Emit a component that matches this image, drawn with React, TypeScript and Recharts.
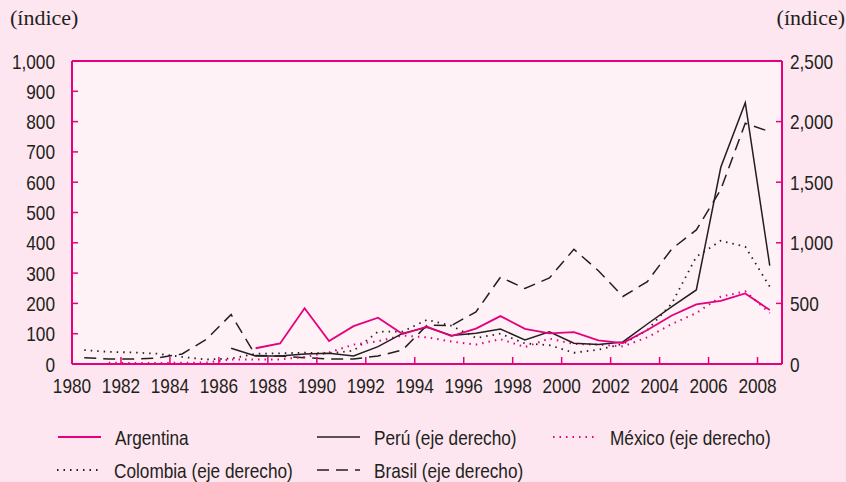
import { LineChart, Line, XAxis, YAxis, CartesianGrid, ReferenceLine } from 'recharts'

const years = [
  1980, 1981, 1982, 1983, 1984, 1985, 1986, 1987, 1988, 1989, 1990, 1991, 1992, 1993, 1994,
  1995, 1996, 1997, 1998, 1999, 2000, 2001, 2002, 2003, 2004, 2005, 2006, 2007, 2008,
]

// eje izquierdo
const argentina = [
  null, null, null, null, null, null, null, 52, 68, 184, 76, 125, 153, 99, 123,
  92, 117, 158, 116, 101, 105, 78, 69, 112, 160, 197, 208, 233, 178,
]

// eje derecho
const peru = [
  null, null, null, null, null, null, 130, 66, 66, 82, 88, 66, 143, 253, 303,
  235, 253, 289, 198, 266, 171, 160, 182, 330, 473, 611, 1623, 2156, 811,
]
const mexico = [
  null, 10, 8, 8, 10, 12, 38, 38, 38, 58, 95, 160, 188, 235, 220,
  185, 160, 205, 140, 210, 165, 160, 145, 220, 330, 420, 555, 600, 420,
]
const colombia = [
  115, 100, 95, 85, 58, 37, 45, 85, 88, 93, 88, 110, 267, 267, 365,
  315, 215, 250, 170, 155, 93, 118, 165, 280, 500, 885, 1017, 968, 638,
]
const brasil = [
  52, 41, 41, 50, 83, 205, 408, 70, 66, 52, 41, 41, 66, 115, 320,
  318, 430, 716, 623, 710, 947, 770, 557, 680, 950, 1106, 1440, 1986, 1917,
]

const xTicks = [1980, 1982, 1984, 1986, 1988, 1990, 1992, 1994, 1996, 1998, 2000, 2002, 2004, 2006, 2008]
const leftTicks = [0, 100, 200, 300, 400, 500, 600, 700, 800, 900, 1000]
const rightTicks = [0, 500, 1000, 1500, 2000, 2500]

// cada año se dibuja a mitad de su intervalo
const data = years.map((year, i) => ({
  x: year + 0.5,
  argentina: argentina[i],
  peru: peru[i],
  mexico: mexico[i],
  colombia: colombia[i],
  brasil: brasil[i],
}))

const MAGENTA = '#e5007e'
const INK = '#231f20'
// Arial Narrow no está: Liberation Sans comprimida al 82 %
const SANS = "'Liberation Sans', Arial, sans-serif"
const SERIF = "'Liberation Serif', 'DejaVu Serif', serif"
const NARROW = 0.82

const fmt = (v: number) => v.toLocaleString('en-US')

const NarrowText = ({ x, y, anchor, dy, children }: any) => (
  <text
    transform={`translate(${x},${y}) scale(${NARROW},1)`}
    textAnchor={anchor}
    dy={dy}
    fontFamily={SANS}
    fontSize={21}
    fill={INK}
  >
    {children}
  </text>
)

const XTick = ({ x, y, payload }: any) => (
  <NarrowText x={x} y={y} anchor="middle" dy="0.71em">
    {payload.value}
  </NarrowText>
)
const LeftTick = ({ x, y, payload }: any) => (
  <NarrowText x={x} y={y} anchor="end" dy="0.36em">
    {fmt(payload.value)}
  </NarrowText>
)
const RightTick = ({ x, y, payload }: any) => (
  <NarrowText x={x} y={y} anchor="start" dy="0.36em">
    {fmt(payload.value)}
  </NarrowText>
)

const legendItems = [
  { label: 'Argentina', x: 58, y: 437, color: MAGENTA, dash: undefined, width: 1.8 },
  { label: 'Perú (eje derecho)', x: 317, y: 437, color: INK, dash: undefined, width: 1.5 },
  { label: 'México (eje derecho)', x: 553, y: 437, color: MAGENTA, dash: '1.5 5', width: 2 },
  { label: 'Colombia (eje derecho)', x: 57, y: 470, color: INK, dash: '1.5 5', width: 1.8 },
  { label: 'Brasil (eje derecho)', x: 317, y: 470, color: INK, dash: '12 7', width: 1.5 },
]

const Overlay = () => (
  <svg width={846} height={482} style={{ position: 'absolute', left: 0, top: 0, pointerEvents: 'none' }}>
    <text x={10} y={25} fontFamily={SERIF} fontSize={22} fill={INK}>
      (índice)
    </text>
    <text x={845} y={25} fontFamily={SERIF} fontSize={22} fill={INK} textAnchor="end">
      (índice)
    </text>
    {legendItems.map((it) => (
      <g key={it.label}>
        <line
          x1={it.x}
          x2={it.x + 43}
          y1={it.y}
          y2={it.y}
          stroke={it.color}
          strokeWidth={it.width}
          strokeDasharray={it.dash}
        />
        <NarrowText x={it.x + 57} y={it.y} anchor="start" dy="0.36em">
          {it.label}
        </NarrowText>
      </g>
    ))}
  </svg>
)

export default function App() {
  return (
    <div style={{ position: 'absolute', left: 0, top: 0, width: 846, height: 482, background: '#fde6ef' }}>
      <LineChart width={846} height={482} data={data} margin={{ top: 61, right: 0, left: 0, bottom: 88 }}>
        <CartesianGrid horizontal={false} vertical={false} fill="#fef2f6" />
        <XAxis
          dataKey="x"
          type="number"
          domain={[1980, 2009]}
          ticks={xTicks}
          interval={0}
          height={30}
          tickSize={-7}
          tickMargin={21}
          tick={<XTick />}
          axisLine={{ stroke: MAGENTA, strokeWidth: 2 }}
          tickLine={{ stroke: MAGENTA, strokeWidth: 1.5 }}
        />
        <YAxis
          yAxisId="left"
          domain={[0, 1000]}
          ticks={leftTicks}
          interval={0}
          width={72}
          tickSize={-6}
          tickMargin={23}
          tick={<LeftTick />}
          axisLine={{ stroke: MAGENTA, strokeWidth: 2 }}
          tickLine={{ stroke: MAGENTA, strokeWidth: 1.5 }}
        />
        <YAxis
          yAxisId="right"
          orientation="right"
          domain={[0, 2500]}
          ticks={rightTicks}
          interval={0}
          width={64}
          tickSize={-6}
          tickMargin={14}
          tick={<RightTick />}
          axisLine={{ stroke: MAGENTA, strokeWidth: 2 }}
          tickLine={{ stroke: MAGENTA, strokeWidth: 1.5 }}
        />
        <ReferenceLine yAxisId="left" y={1000} stroke={MAGENTA} strokeWidth={2} />
        <Line yAxisId="right" dataKey="brasil" stroke={INK} strokeWidth={1.5} strokeDasharray="12 7" dot={false} isAnimationActive={false} />
        <Line yAxisId="right" dataKey="colombia" stroke={INK} strokeWidth={1.8} strokeDasharray="1.5 5" dot={false} isAnimationActive={false} />
        <Line yAxisId="right" dataKey="mexico" stroke={MAGENTA} strokeWidth={2} strokeDasharray="1.5 5" dot={false} isAnimationActive={false} />
        <Line yAxisId="right" dataKey="peru" stroke={INK} strokeWidth={1.5} dot={false} isAnimationActive={false} />
        <Line yAxisId="left" dataKey="argentina" stroke={MAGENTA} strokeWidth={1.8} dot={false} isAnimationActive={false} />
      </LineChart>
      <Overlay />
    </div>
  )
}
